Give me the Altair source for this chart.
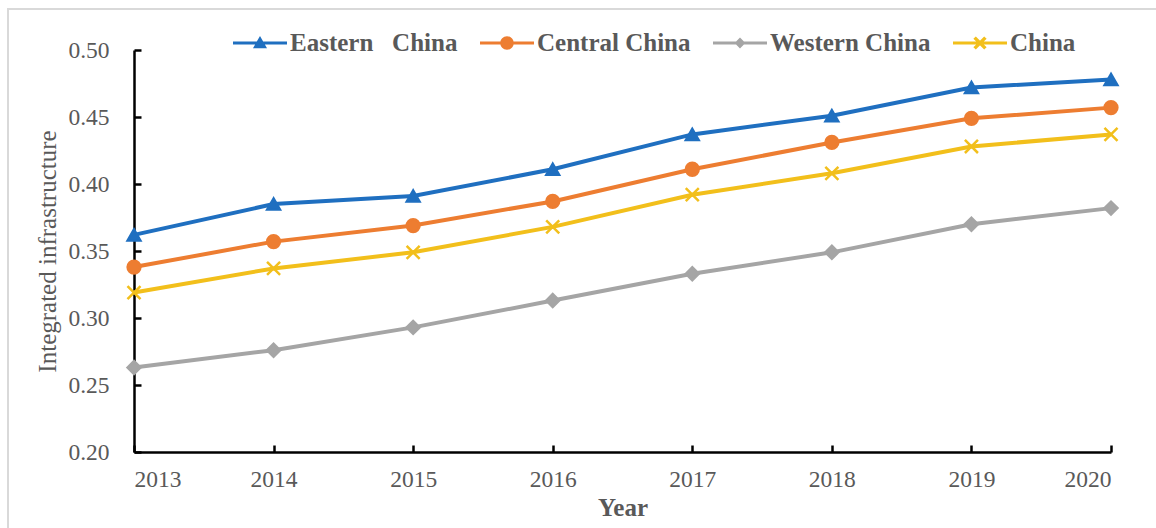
import altair as alt
import pandas as pd

years = [2013, 2014, 2015, 2016, 2017, 2018, 2019, 2020]
series_names = ["Eastern\u00a0\u00a0 China", "Central China", "Western China", "China"]
eastern = [0.362, 0.385, 0.391, 0.411, 0.437, 0.451, 0.472, 0.478]
central = [0.338, 0.357, 0.369, 0.387, 0.411, 0.431, 0.449, 0.457]
western = [0.263, 0.276, 0.293, 0.313, 0.333, 0.349, 0.370, 0.382]
china = [0.319, 0.337, 0.349, 0.368, 0.392, 0.408, 0.428, 0.437]
y_ticks = [0.20, 0.25, 0.30, 0.35, 0.40, 0.45, 0.50]

colors = ["#1F6FC0", "#ED7D31", "#A5A5A5", "#F2BF1B"]

rows = []
for name, vals in zip(series_names, [eastern, central, western, china]):
    for yr, v in zip(years, vals):
        rows.append({"year": yr, "value": v, "series": name})
df = pd.DataFrame(rows)

W, H = 977, 402
FONT = "Liberation Serif"
GRAY = "#595959"

xscale = alt.Scale(domain=[2013, 2020], nice=False, zero=False)
yscale = alt.Scale(domain=[0.2, 0.5], nice=False, zero=False)

# plot markers
pt_shapes = ["triangle-up", "circle", "diamond", "M-1,-1L1,1M-1,1L1,-1"]
pt_sizes = [160, 170, 100, 140]

# legend symbols: line segment + marker
bar = "M-1,-0.06L1,-0.06L1,0.06L-1,0.06Z"
tri = "M-0.26,0.19L0,-0.26L0.26,0.19Z"
circ = "M-0.25,0A0.25,0.25,0,1,1,0.25,0A0.25,0.25,0,1,1,-0.25,0Z"
dia = "M0,-0.2L0.2,0L0,0.2L-0.2,0Z"
a, d = 0.2, 0.045
xm = (f"M{-a+d},{-a-d}L{a+d},{a-d}L{a-d},{a+d}L{-a-d},{-a+d}Z"
      f"M{-a-d},{a-d}L{a-d},{-a-d}L{a+d},{-a+d}L{-a+d},{a+d}Z")
legend_paths = [bar + tri, bar + circ, bar + dia, bar + xm]

border = alt.Chart(alt.Data(values=[{"a": 1}])).mark_rect(
    fillOpacity=0, stroke="#D9D9D9", strokeWidth=2
).encode(
    x=alt.value(8 - 134), x2=alt.value(1170 - 134),
    y=alt.value(9 - 50), y2=alt.value(540 - 50),
)

lines = alt.Chart(df).mark_line(strokeWidth=4).encode(
    x=alt.X("year:Q", scale=xscale, axis=alt.Axis(
        orient="bottom", values=years, format="d", ticks=False, tickSize=0,
        domainColor="black", domainWidth=2.5, grid=False,
        labelFont=FONT, labelFontSize=23.5, labelColor=GRAY, labelPadding=15,
        title="Year", titleFont=FONT, titleFontSize=25, titleFontWeight="bold",
        titleColor=GRAY, titleX=W / 2, titleY=55, titleBaseline="middle")),
    y=alt.Y("value:Q", scale=yscale, axis=alt.Axis(
        orient="left", values=y_ticks, format=".2f", ticks=False, tickSize=0,
        domainColor="black", domainWidth=2.5, grid=False,
        labelFont=FONT, labelFontSize=23.5, labelColor=GRAY, labelPadding=25,
        title="Integrated infrastructure", titleFont=FONT, titleFontSize=25,
        titleFontWeight="normal", titleColor=GRAY, titleAngle=-90,
        titleX=-87, titleY=H / 2, titleBaseline="middle", titleAlign="center")),
    color=alt.Color("series:N", scale=alt.Scale(domain=series_names, range=colors), legend=None),
    detail="series:N",
)

points = alt.Chart(df).mark_point(filled=True, strokeWidth=2.5, opacity=1).encode(
    x=alt.X("year:Q", scale=xscale, axis=alt.Axis(
        orient="top", offset=-H, values=years, labels=False, domain=False,
        ticks=True, tickSize=7, tickWidth=2.5, tickColor="black", grid=False, title=None)),
    y=alt.Y("value:Q", scale=yscale, axis=alt.Axis(
        orient="right", offset=-W, values=y_ticks, labels=False, domain=False,
        ticks=True, tickSize=7, tickWidth=2.5, tickColor="black", grid=False, title=None)),
    fill=alt.Fill("series:N", scale=alt.Scale(domain=series_names, range=colors), legend=None),
    stroke=alt.Stroke("series:N", scale=alt.Scale(domain=series_names, range=colors), legend=None),
    shape=alt.Shape("series:N", scale=alt.Scale(domain=series_names, range=pt_shapes), legend=None),
    size=alt.Size("series:N", scale=alt.Scale(domain=series_names, range=pt_sizes), legend=None),
)

leg = alt.Legend(
    title=None, orient="none", direction="horizontal", legendX=99, legendY=-34,
    symbolSize=2916, symbolStrokeWidth=0, symbolOpacity=1,
    labelFont=FONT, labelFontSize=25, labelFontWeight="bold", labelColor=GRAY,
    labelOffset=3, columnPadding=22, padding=0, labelLimit=400,
)
legend_layer = alt.Chart(df).transform_filter("datum.year < 0").mark_point(
    filled=True, size=2916, opacity=1
).encode(
    fill=alt.Fill("series:N", scale=alt.Scale(domain=series_names, range=colors), legend=leg),
    shape=alt.Shape("series:N", scale=alt.Scale(domain=series_names, range=legend_paths), legend=leg),
)

chart = alt.layer(border, lines, points, legend_layer).resolve_scale(
    shape="independent", fill="independent"
).resolve_axis(
    x="independent", y="independent"
).properties(
    width=W, height=H,
    autosize=alt.AutoSizeParams(type="none"),
    padding={"left": 134, "top": 50, "right": 45, "bottom": 76},
    background="white",
).configure_view(stroke=None)

chart.save("out.html", embed_options={"renderer": "svg", "actions": False})
